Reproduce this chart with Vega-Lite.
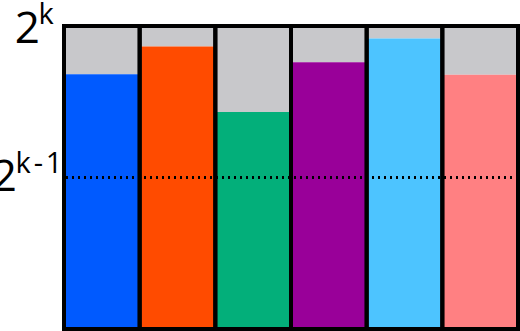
{
  "$schema": "https://vega.github.io/schema/vega-lite/v6.json",
  "width": 454,
  "height": 303,
  "autosize": "none",
  "padding": {"left": 64, "top": 26, "right": 2, "bottom": 2},
  "background": "white",
  "config": {"view": {"stroke": null}},
  "data": {
    "values": [
      {"bar": "1", "value": 0.841},
      {"bar": "2", "value": 0.932},
      {"bar": "3", "value": 0.716},
      {"bar": "4", "value": 0.880},
      {"bar": "5", "value": 0.959},
      {"bar": "6", "value": 0.839}
    ]
  },
  "encoding": {
    "x": {"field": "bar", "type": "nominal", "sort": null, "axis": null,
          "scale": {"paddingInner": 0, "paddingOuter": 0}}
  },
  "layer": [
    {
      "mark": {"type": "bar", "fill": "#c8c8cb", "strokeWidth": 0},
      "encoding": {
        "y": {"field": "value", "type": "quantitative",
              "scale": {"domain": [0, 1], "nice": false, "zero": true},
              "axis": {"orient": "left", "values": [0.5, 1], "domain": false, "ticks": false, "tickSize": 0, "grid": false,
                       "labelExpr": "datum.value == 1 ? 'k' : 'k\u200a-\u200a1'",
                       "labelFont": "Open Sans", "labelFontSize": 29, "labelColor": "black",
                       "labelAlign": "left", "labelBaseline": "alphabetic",
                       "labelFlush": false, "labelOverlap": false, "labelBound": false,
                       "labelPadding": {"condition": {"test": "datum.value == 1", "value": 26}, "value": 49},
                       "labelOffset": {"condition": {"test": "datum.value == 1", "value": -3}, "value": -5},
                       "title": null}},
        "y2": {"datum": 1}
      }
    },
    {
      "mark": {"type": "bar", "strokeWidth": 0},
      "encoding": {
        "y": {"field": "value", "type": "quantitative",
              "axis": {"orient": "left", "values": [0.5, 1], "domain": false, "ticks": false, "tickSize": 0, "grid": false,
                       "labelExpr": "'2'",
                       "labelFont": "Open Sans", "labelFontSize": 44, "labelColor": "black",
                       "labelAlign": "right", "labelBaseline": "alphabetic",
                       "labelFlush": false, "labelOverlap": false, "labelBound": false,
                       "labelPadding": {"condition": {"test": "datum.value == 1", "value": 24.5}, "value": 47.5},
                       "labelOffset": {"condition": {"test": "datum.value == 1", "value": 16}, "value": 12.6},
                       "title": null}},
        "y2": {"datum": 0},
        "color": {"field": "bar", "type": "nominal", "legend": null,
                  "scale": {"domain": ["1", "2", "3", "4", "5", "6"],
                            "range": ["#005aff", "#ff4b00", "#03af7a", "#990099", "#4dc4ff", "#ff8082"]}}
      }
    },
    {
      "mark": {"type": "rule", "color": "black", "strokeWidth": 2, "strokeDash": [2, 4]},
      "encoding": {"y": {"datum": 0.5, "type": "quantitative", "axis": null}, "x": null}
    },
    {
      "mark": {"type": "bar", "fill": null, "fillOpacity": 0, "stroke": "black", "strokeWidth": 4},
      "encoding": {
        "y": {"datum": 0, "type": "quantitative", "axis": null},
        "y2": {"datum": 1}
      }
    }
  ],
  "resolve": {"axis": {"y": "independent"}}
}
